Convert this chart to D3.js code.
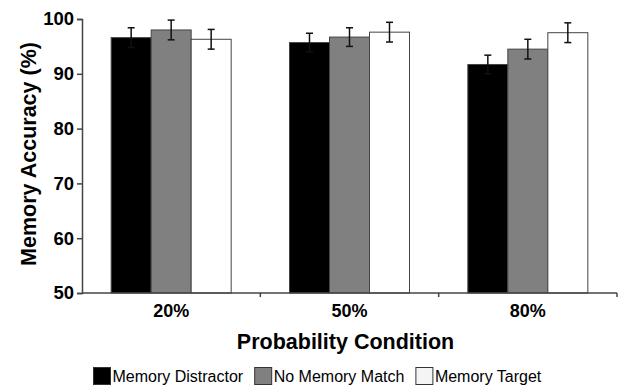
<!DOCTYPE html>
<meta charset="utf-8">
<body style="margin: 0; overflow: hidden; background: #fff">
<script src="https://d3js.org/d3.v7.min.js"></script>
<script>
    var categories = ["20%", "50%", "80%"];
    var seriesNames = ["Memory Distractor", "No Memory Match", "Memory Target"];
    var seriesColors = ["#000000", "#808080", "#ffffff"];
    // mean accuracy, one row per series, one value per category
    var distractor = [96.6, 95.7, 91.7];
    var noMatch = [98.0, 96.7, 94.5];
    var target = [96.3, 97.6, 97.5];
    // standard errors
    var distractorErr = [1.8, 1.7, 1.7];
    var noMatchErr = [1.8, 1.7, 1.8];
    var targetErr = [1.8, 1.8, 1.8];
    var yTicks = [50, 60, 70, 80, 90, 100];

    var values = [distractor, noMatch, target];
    var errors = [distractorErr, noMatchErr, targetErr];

    var width = 622, height = 386;
    var margin = {top: 19, right: 3, bottom: 93, left: 82};
    var font = "'Liberation Sans', Arial, sans-serif";

    var svg = d3.select("body").append("svg")
        .attr("width", width)
        .attr("height", height)
        .style("font-family", font);

    var x0 = d3.scaleBand()
        .domain(categories)
        .range([margin.left, width - margin.right - 2]);

    var x1 = d3.scaleBand()
        .domain(seriesNames)
        .range([0, 120]);

    var y = d3.scaleLinear()
        .domain([50, 100])
        .range([height - margin.bottom, margin.top]);

    // bars
    var rows = [];
    categories.forEach(function (c, i) {
        seriesNames.forEach(function (s, j) {
            rows.push({cat: c, series: s, j: j, v: values[j][i], e: errors[j][i]});
        });
    });

    var barX = function (d) {
        return x0(d.cat) + (x0.bandwidth() - 120) / 2 + x1(d.series);
    };

    svg.append("g").selectAll("rect")
        .data(rows)
        .enter().append("rect")
        .attr("x", barX)
        .attr("y", function (d) { return y(d.v); })
        .attr("width", x1.bandwidth())
        .attr("height", function (d) { return y(50) - y(d.v); })
        .attr("fill", function (d) { return seriesColors[d.j]; })
        .attr("stroke", "#444")
        .attr("stroke-width", 1);

    // error bars
    var eb = svg.append("g").attr("stroke", "#111").attr("stroke-width", 1.5);
    rows.forEach(function (d) {
        var cx = barX(d) + x1.bandwidth() / 2;
        eb.append("line").attr("x1", cx).attr("x2", cx)
            .attr("y1", y(d.v - d.e)).attr("y2", y(d.v + d.e));
        eb.append("line").attr("x1", cx - 3.5).attr("x2", cx + 3.5)
            .attr("y1", y(d.v + d.e)).attr("y2", y(d.v + d.e));
        eb.append("line").attr("x1", cx - 3.5).attr("x2", cx + 3.5)
            .attr("y1", y(d.v - d.e)).attr("y2", y(d.v - d.e));
    });

    // y axis
    var yAxis = svg.append("g")
        .attr("transform", "translate(" + margin.left + ",0)")
        .call(d3.axisLeft(y).tickValues(yTicks).tickSize(5).tickPadding(3));
    yAxis.select(".domain").attr("stroke", "#444").attr("stroke-width", 1.5);
    yAxis.selectAll(".tick line").attr("stroke", "#444").attr("stroke-width", 1.5);
    yAxis.selectAll("text")
        .attr("fill", "#000")
        .style("font-size", "18.5px")
        .style("font-weight", "bold")
        .style("font-family", font);

    // x axis, ticks on category borders
    var xAxisG = svg.append("g")
        .attr("transform", "translate(0," + y(50) + ")");
    xAxisG.append("line")
        .attr("x1", margin.left).attr("x2", x0.range()[1])
        .attr("stroke", "#444").attr("stroke-width", 1.5);
    xAxisG.selectAll(".xt")
        .data(categories)
        .enter().append("line")
        .attr("x1", function (c) { return x0(c) + x0.bandwidth(); })
        .attr("x2", function (c) { return x0(c) + x0.bandwidth(); })
        .attr("y1", 0).attr("y2", 4)
        .attr("stroke", "#444").attr("stroke-width", 1.5);
    xAxisG.selectAll("text")
        .data(categories)
        .enter().append("text")
        .attr("x", function (c) { return x0(c) + x0.bandwidth() / 2; })
        .attr("y", 24)
        .attr("text-anchor", "middle")
        .style("font-size", "18px")
        .style("font-weight", "bold")
        .text(function (c) { return c; });

    // axis titles
    svg.append("text")
        .attr("x", (margin.left + x0.range()[1]) / 2 - 4)
        .attr("y", 349)
        .attr("text-anchor", "middle")
        .style("font-size", "21.5px")
        .style("font-weight", "bold")
        .text("Probability Condition");

    svg.append("text")
        .attr("transform", "translate(36," + (y(75) - 2) + ") rotate(-90)")
        .attr("text-anchor", "middle")
        .style("font-size", "21.5px")
        .style("font-weight", "bold")
        .text("Memory Accuracy (%)");

    // legend
    var legend = svg.append("g");
    var lx = 93;
    seriesNames.forEach(function (s, j) {
        legend.append("rect")
            .attr("x", lx + 0.5).attr("y", 367.5)
            .attr("width", 17).attr("height", 17)
            .attr("fill", j === 2 ? "#f4f4f4" : seriesColors[j])
            .attr("stroke", "#333").attr("stroke-width", 1);
        var t = legend.append("text")
            .attr("x", lx + 19.5).attr("y", 382)
            .style("font-size", "16px")
            .text(s);
        lx += 19.5 + t.node().getComputedTextLength() + 11;
    });
</script>
